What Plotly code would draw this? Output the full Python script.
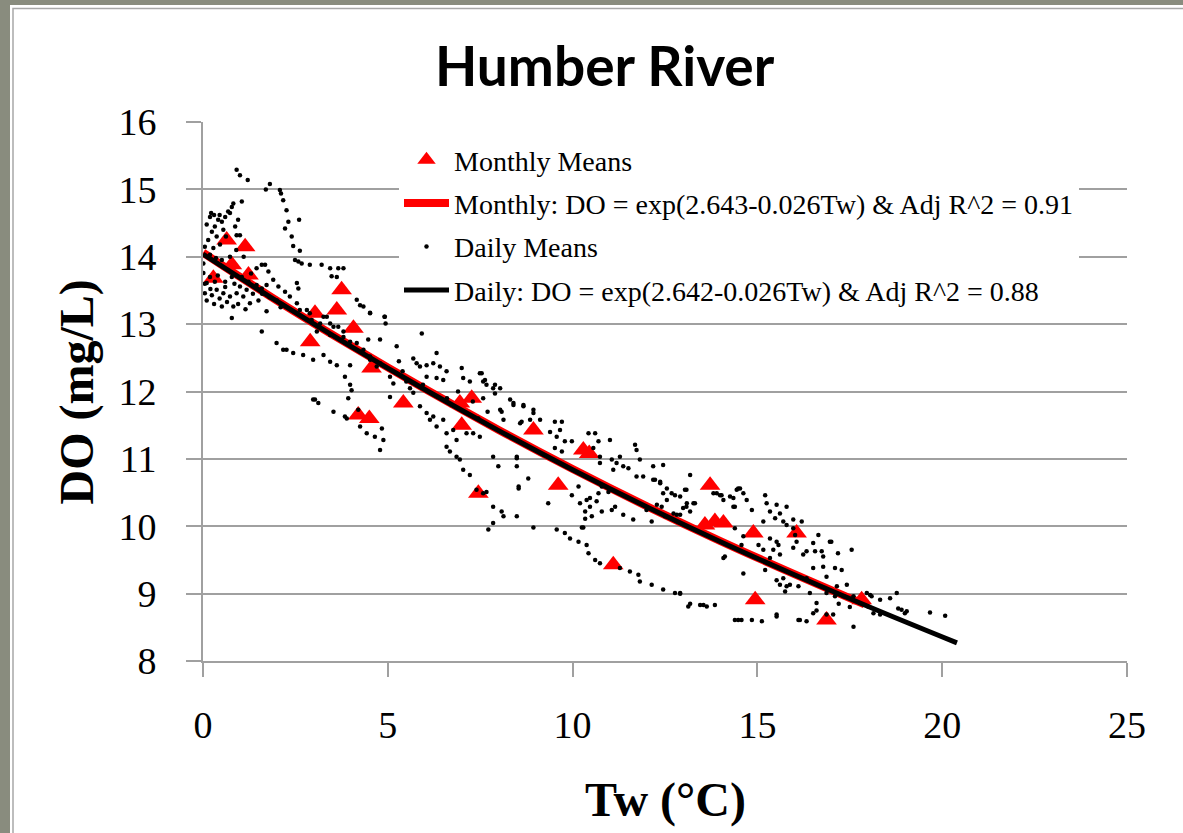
import plotly.graph_objects as go

# ---------------- data ----------------
monthly_tw = [0.28, 0.64, 0.78, 1.14, 1.23, 3.03, 2.90, 3.62, 3.75, 4.07, 4.56, 4.20, 4.50, 5.42,
              6.95, 7.27, 7.00, 7.45, 8.94, 10.29, 10.45, 9.61, 11.10, 13.72, 13.58, 13.85, 14.08,
              14.89, 16.06, 14.94, 16.87, 17.82]
monthly_do = [13.68, 14.25, 13.88, 14.15, 13.73, 13.16, 12.74, 13.21, 13.51, 12.94, 12.35, 11.65, 11.60, 11.83,
              11.83, 11.90, 11.50, 10.49, 11.43, 11.13, 11.08, 10.61, 9.43, 10.61, 10.02, 10.07, 10.05,
              9.90, 9.90, 8.91, 8.61, 8.91]

monthly_fit_tw = [0, 2, 4, 6, 8, 10, 12, 14, 16, 17.9]
monthly_fit_do = [14.06, 13.35, 12.68, 12.04, 11.43, 10.85, 10.30, 9.78, 9.29, 8.84]

daily_fit_tw = [0, 2, 4, 6, 8, 10, 12, 14, 16, 18, 20.4]
daily_fit_do = [14.04, 13.34, 12.67, 12.03, 11.42, 10.84, 10.29, 9.77, 9.28, 8.81, 8.27]

daily_points = [
    (0.91,15.29),(1.0,15.21),(1.21,15.14),(1.81,15.08),(1.70,15.0),(2.08,14.99),(2.11,14.94),(2.17,14.84),
    (2.26,14.69),(2.31,14.52),(2.6,14.55),(2.22,14.42),(2.40,14.30),(2.44,14.16),(2.62,14.09),(2.49,13.95),
    (2.58,13.93),(2.67,13.90),(2.89,13.88),(3.21,13.88),(3.44,13.83),(3.66,13.83),(3.80,13.83),(3.48,13.71),
    (3.62,13.70),(4.16,13.36),(4.34,13.26),(4.52,13.17),(4.91,13.11),(4.94,13.01),
    (1.45,13.83),(1.59,13.88),(1.68,13.88),(1.77,13.78),(1.90,13.66),(2.04,13.56),(2.22,13.48),(2.54,13.61),
    (2.58,13.53),(1.59,13.53),(1.72,13.58),(1.45,13.58),(1.23,13.63),
    (0.19,14.59),(0.24,14.37),(0.32,14.45),(0.41,14.55),(0.51,14.52),(0.60,14.59),(0.68,14.67),(0.78,14.74),
    (0.82,14.79),(1.05,14.82),(0.73,14.65),(0.55,14.40),(0.37,14.30),(0.14,14.25),(0.05,14.15),(0.28,14.13),
    (0.46,14.18),(0.91,14.32),(0.87,14.45),(1.0,14.32),(0.19,14.03),(0.01,13.90),(0.51,13.95),(0.73,14.0),
    (0.22,14.65),(0.1,14.48),(0.3,14.62),(0.45,14.62),(0.95,14.55),(0.62,14.3),(0.9,14.1),(1.1,14.0),(0.35,13.98),
    (0.01,13.76),(0.05,13.46),(0.24,13.43),(0.37,13.51),(0.55,13.46),(0.73,13.41),(0.91,13.46),(1.09,13.41),
    (1.0,13.56),(1.18,13.51),(1.27,13.31),(0.19,13.70),(0.32,13.63),(0.10,13.61),(0.60,13.63),(0.78,13.70),
    (1.05,13.70),(1.72,13.19),(0.78,13.09),(0.82,13.26),(0.51,13.26),(0.1,13.35),(0.3,13.3),(0.45,13.38),
    (0.65,13.33),(0.95,13.3),(1.15,13.22),(0.2,13.52),(0.6,13.55),(0.85,13.6),(1.35,13.45),(1.5,13.35),
    (0.05,13.6),(0.4,13.72),(1.3,13.75),
    (2.35,13.41),(2.54,13.31),(2.81,13.21),(2.94,13.06),(3.17,13.01),(3.35,13.11),(3.53,12.96),(3.08,12.89),
    (3.44,12.84),(3.80,12.81),(3.98,12.74),(4.16,12.72),(4.34,12.62),(4.52,12.52),(4.79,12.42),(2.62,13.21),
    (2.89,13.16),(3.26,13.11),(3.44,13.01),(3.66,12.96),(3.80,12.89),(4.25,13.28),(4.52,13.16),(4.92,13.11),
    (4.47,12.77),(4.79,12.77),(5.24,12.67),(5.92,12.86),(1.8,13.4),(2.0,13.35),(2.1,13.25),(1.6,13.45),
    (1.59,12.89),(1.99,12.72),(2.26,12.62),(2.17,12.62),(2.44,12.57),(2.71,12.54),(2.98,12.47),(3.26,12.54),
    (3.44,12.44),(3.62,12.39),(3.98,12.39),(3.84,12.22),(3.98,12.10),(4.02,12.02),(3.93,11.90),(2.98,11.88),
    (3.12,11.83),(3.53,11.70),(3.89,11.60),(4.20,11.73),(4.25,11.48),(4.43,11.38),(4.65,11.33),(4.84,11.45),
    (4.88,11.28),(4.79,11.13),(3.03,11.88),(3.84,11.63),
    (4.52,12.47),(4.70,12.37),(5.06,12.22),(5.15,12.12),(5.06,11.92),(5.69,11.98),(5.87,11.78),(6.05,11.68),
    (6.14,11.58),(6.32,11.48),(6.23,11.63),(6.50,11.58),(6.59,11.38),(6.77,11.43),(6.86,11.28),(7.13,11.38),
    (7.31,11.38),(7.49,11.33),(6.59,11.18),(6.68,11.11),(6.86,11.03),(6.95,10.99),(7.04,10.84),(7.22,10.76),
    (7.40,10.54),(7.58,10.49),(7.67,10.51),(7.85,11.03),(7.99,10.89),(8.49,11.03),(8.49,10.89),(8.80,10.71),
    (8.54,10.56),
    (5.69,12.49),(5.78,12.42),(5.87,12.37),(6.05,12.39),(6.23,12.42),(6.32,12.57),(6.41,12.37),(6.59,12.30),
    (6.05,12.22),(6.32,12.20),(6.50,12.17),(7.0,12.35),(7.04,12.20),(7.22,12.15),(7.54,12.27),(7.58,12.15),
    (7.85,12.05),(8.04,12.05),(8.31,11.88),(8.40,11.83),(8.67,11.78),(8.94,11.73),(8.04,11.73),(8.13,11.58),
    (8.58,11.53),(8.85,11.58),(5.4,12.3),(5.5,12.15),(5.6,12.05),(5.3,12.45),(6.9,12.0),(7.3,11.85),(7.7,11.7),
    (5.95,12.1),(6.6,11.9),(7.45,11.6),
    (7.49,12.27),(7.63,12.17),(7.67,12.10),(7.90,12.10),(7.90,11.97),(7.58,11.90),(8.40,11.80),(8.67,11.80),
    (8.08,11.70),(8.62,11.55),(8.94,11.68),(9.12,11.58),(9.52,11.55),(9.71,11.55),(9.66,11.43),(9.39,11.40),
    (9.57,11.33),(9.79,11.26),(9.98,11.26),(9.52,11.16),(9.71,11.11),(10.43,11.38),(10.61,11.38),(10.70,11.26),
    (11.01,11.28),(10.56,11.16),(10.74,11.03),(11.06,10.99),(11.28,11.03),(11.19,10.94),(11.37,10.89),
    (11.51,10.86),(11.73,11.13),(11.82,10.99),(11.69,11.21),(12.18,10.89),(12.45,10.91),(11.91,10.74),
    (12.18,10.69),(12.37,10.66),(12.55,10.56),(12.68,10.49),(12.91,10.44),(13.08,10.54),(13.18,10.76),
    (12.55,10.39),(12.41,10.29),(12.73,10.19),(12.91,10.17),(13.08,10.29),(13.27,10.34),(13.81,10.49),
    (13.99,10.46),(14.26,10.44),(14.44,10.54),(14.35,10.29),
    (8.49,11.01),(8.54,10.59),(9.34,10.34),(9.98,10.46),(10.16,10.59),(10.20,10.34),(10.38,10.39),
    (10.47,10.29),(10.70,10.49),(10.97,10.51),(11.15,10.29),(10.79,10.22),(10.34,10.11),(10.25,9.98),(8.94,9.98),
    (10.74,10.94),(11.10,10.84),(11.73,10.74),(12.23,10.69),(12.37,10.64),(12.45,10.49),(12.77,10.46),
    (13.31,10.34),(12.99,10.27),(12.82,10.17),(12.50,10.15),(12.28,10.32),(12.0,10.24),(12.14,10.07),
    (11.64,10.10),(11.37,10.17),(11.06,10.24),(10.52,10.15),(10.29,9.98),(10.34,10.22),(10.47,10.42),
    (10.65,10.37),(10.79,10.59),
    (7.85,10.29),(8.08,10.22),(8.13,10.15),(8.49,10.15),(7.85,10.05),(7.72,9.95),(9.57,9.95),(9.79,9.90),
    (9.93,9.82),(10.16,9.77),(10.38,9.72),(10.43,9.60),(10.61,9.50),(10.74,9.45),(11.28,9.38),(11.55,9.33),
    (11.78,9.28),(11.82,9.18),(12.14,9.13),(12.45,9.06),(12.77,9.01),(12.91,9.0),(13.13,8.81),(13.45,8.83),
    (13.63,8.81),(13.85,8.83),(14.39,8.61),(14.57,8.61),(14.85,8.61),(15.12,8.59),(15.52,8.66),(16.11,8.61),
    (16.33,8.59),(16.51,8.71),(16.87,8.69),(17.05,8.69),(17.60,8.51),(13.54,8.83),(12.91,9.01),(13.18,8.85),
    (13.04,10.54),(13.90,10.49),(14.03,10.46),(14.35,10.42),(14.53,10.56),(14.62,10.49),(14.71,10.39),
    (14.39,10.29),(13.09,10.34),(13.18,10.22),(15.21,10.46),(15.25,10.34),(15.52,10.32),(15.79,10.29),
    (14.85,10.24),(15.34,10.22),(15.61,10.19),(15.48,10.12),(15.16,10.07),(15.70,10.07),(15.79,10.02),
    (16.20,10.07),(15.97,9.97),(16.02,9.87),(14.39,9.97),(14.62,9.85),(14.57,9.72),(15.03,9.72),(15.34,9.82),
    (15.52,9.77),(15.57,9.72),(15.43,9.65),(15.61,9.58),(15.34,9.53),(15.97,9.68),(16.06,9.77),(16.24,9.58),
    (16.51,9.75),(16.33,9.63),(16.56,9.63),(16.74,9.63),(16.78,9.55),(17.0,9.77),(17.18,9.60),(17.55,9.65),
    (16.51,9.38),(16.78,9.40),(17.10,9.38),(17.28,9.35),(16.87,9.25),(14.12,9.55),(14.62,9.30),(15.21,9.35),
    (15.52,9.20),(15.61,9.13),(15.88,9.13),(15.75,9.03),(16.11,9.11),(16.33,9.23),(16.60,8.86),(17.15,9.11),
    (17.42,9.13),(16.87,9.01),(17.10,8.96),(17.33,8.96),(17.60,8.96),(17.96,9.01),(18.09,8.96),(18.32,8.91),
    (18.59,8.93),(18.77,9.01),(18.81,8.78),(18.90,8.76),(19.04,8.74),(18.0,8.81),(18.14,8.71),(18.32,8.69),
    (19.67,8.72),(20.08,8.67),(15.52,8.69),(14.48,8.61),
    (16.65,9.87),(16.96,9.77),(15.97,10.10),(14.08,10.39),(14.48,10.56),(14.08,9.53),(15.16,9.65),(15.70,9.23),
    (15.79,9.11),(16.42,9.01),(18.05,8.98),(18.99,8.71),(16.15,8.61),(16.6,8.75),(17.2,8.85),(17.5,8.8),
]
daily_tw = [p[0] for p in daily_points]
daily_do = [p[1] for p in daily_points]

x_ticks = [0, 5, 10, 15, 20, 25]
y_ticks = [8, 9, 10, 11, 12, 13, 14, 15, 16]

# ---------------- figure ----------------
W, H = 1183, 833
L, R, T, B = 203, 56, 122, 172
pw, ph = W - L - R, H - T - B

def px_x(p):
    return (p - L) / pw

def px_y(p):
    return (H - B - p) / ph

serif = "Liberation Serif"
grid = "#a0a0a0"

fig = go.Figure()
fig.add_trace(go.Scatter(x=monthly_tw, y=monthly_do, mode="markers", name="Monthly Means",
                         legendgroup="a",
                         marker=dict(symbol="triangle-up", size=18, color="#ff0000")))
fig.add_trace(go.Scatter(x=monthly_fit_tw, y=monthly_fit_do, mode="lines",
                         name="Monthly: DO = exp(2.643-0.026Tw) & Adj R^2 = 0.91", legendgroup="b",
                         line=dict(color="#ff0000", width=8, shape="spline")))
fig.add_trace(go.Scatter(x=daily_tw, y=daily_do, mode="markers", name="Daily Means", legendgroup="c",
                         marker=dict(symbol="circle", size=4.5, color="#000000")))
fig.add_trace(go.Scatter(x=daily_fit_tw, y=daily_fit_do, mode="lines",
                         name="Daily: DO = exp(2.642-0.026Tw) & Adj R^2 = 0.88", legendgroup="d",
                         line=dict(color="#000000", width=5, shape="spline")))

shapes = [
    dict(type="rect", xref="paper", yref="paper", x0=px_x(10), x1=px_x(1200), y0=px_y(850), y1=px_y(5),
         fillcolor="white", line=dict(width=0), layer="below"),
    dict(type="rect", xref="paper", yref="paper", x0=px_x(13), x1=px_x(1200), y0=px_y(850), y1=px_y(8.5),
         fillcolor="rgba(0,0,0,0)", line=dict(width=1.5, color="#a8a8a8"), layer="below"),
]

annotations = [
    dict(text="<b>Humber River</b>", xref="paper", yref="paper", x=px_x(605), y=px_y(65),
         xanchor="center", yanchor="middle", showarrow=False,
         font=dict(family="Lato", size=55, color="black")),
    dict(text="<b>DO (mg/L)</b>", xref="paper", yref="paper", x=px_x(76), y=0.5, textangle=-90,
         xanchor="center", yanchor="middle", showarrow=False,
         font=dict(family=serif, size=48, color="black")),
    dict(text="<b>Tw (°C)</b>", xref="paper", yref="paper", x=0.5, y=px_y(800),
         xanchor="center", yanchor="middle", showarrow=False,
         font=dict(family=serif, size=48, color="black")),
]

fig.update_layout(
    width=W, height=H,
    margin=dict(l=L, r=R, t=T, b=B, pad=0),
    paper_bgcolor="#898c7e",
    plot_bgcolor="white",
    showlegend=True,
    shapes=shapes,
    annotations=annotations,
    legend=dict(x=px_x(399), y=px_y(135), xanchor="left", yanchor="top",
                bgcolor="white", borderwidth=0,
                font=dict(family=serif, size=28, color="black"),
                tracegroupgap=4, itemwidth=45),
    xaxis=dict(range=[0, 25], tickvals=x_ticks, ticktext=[str(v) for v in x_ticks],
               showgrid=False, zeroline=False, showline=True, linecolor=grid, linewidth=2,
               ticks="outside", ticklen=14, tickcolor=grid, tickwidth=2,
               tickfont=dict(family=serif, size=38, color="black"), ticklabelstandoff=15,
               fixedrange=True),
    yaxis=dict(range=[8, 16], tickvals=y_ticks, ticktext=[str(v) for v in y_ticks],
               showgrid=True, gridcolor=grid, gridwidth=2, zeroline=False,
               showline=True, linecolor=grid, linewidth=2,
               ticks="outside", ticklen=15, tickcolor=grid, tickwidth=2,
               tickfont=dict(family=serif, size=38, color="black"), ticklabelstandoff=22,
               fixedrange=True),
)

fig.write_html("out.html")
